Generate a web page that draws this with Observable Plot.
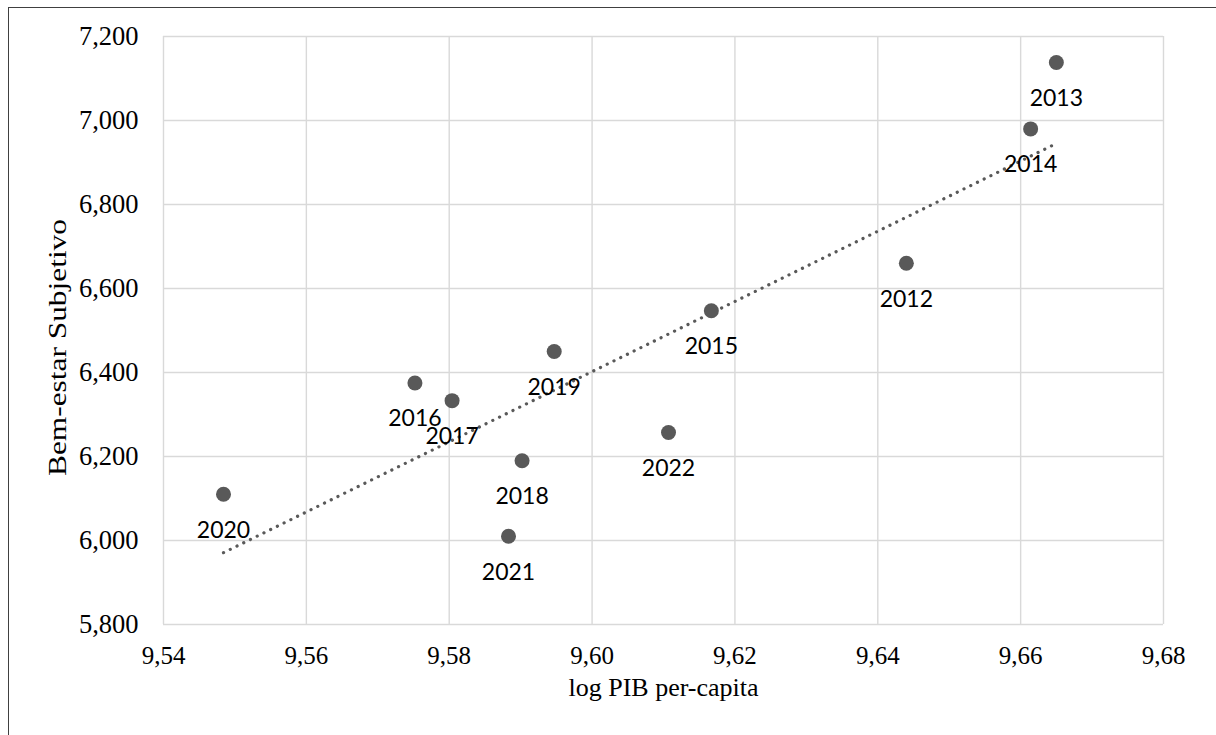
<!DOCTYPE html>
<html><head><meta charset="utf-8">
<script src="https://cdn.jsdelivr.net/npm/d3@7"></script>
<script src="https://cdn.jsdelivr.net/npm/@observablehq/plot@0.6"></script>
<style>
body{margin:0;background:#fff;}
#wrap{position:relative;width:1216px;height:735px;overflow:hidden;background:#fff;}
#frame{position:absolute;left:8px;top:7px;width:1400px;height:900px;border-top:1px solid #404040;border-left:1px solid #404040;pointer-events:none;}
#chart{position:absolute;left:0;top:0;}
</style></head><body><div id="wrap"><div id="chart"></div><div id="frame"></div></div>
<script>
const years = [2012, 2013, 2014, 2015, 2016, 2017, 2018, 2019, 2020, 2021, 2022];
const logPib = [9.6440, 9.6650, 9.6614, 9.6167, 9.5752, 9.5804, 9.5902, 9.5947, 9.5484, 9.5883, 9.6107];
const bemEstar = [6660, 7138, 6980, 6547, 6375, 6333, 6190, 6450, 6110, 6010, 6257];
const xTicks = [9.54, 9.56, 9.58, 9.60, 9.62, 9.64, 9.66, 9.68];
const yTicks = [5800, 6000, 6200, 6400, 6600, 6800, 7000, 7200];
const xTitle = "log PIB per-capita";
const yTitle = "Bem-estar Subjetivo";

const data = years.map((yr, i) => ({year: String(yr), x: logPib[i], y: bemEstar[i]}));
const serif = "'Liberation Serif', 'Times New Roman', serif";

const chart = Plot.plot({
  width: 1216, height: 735,
  marginLeft: 163, marginRight: 53, marginTop: 36, marginBottom: 111,
  style: {fontFamily: serif, fontSize: "25px", color: "#000", background: "transparent", overflow: "visible"},
  x: {domain: [9.54, 9.68]},
  y: {domain: [5800, 7200]},
  marks: [
    Plot.gridX(xTicks, {stroke: "#d9d9d9", strokeOpacity: 1, strokeWidth: 1.4}),
    Plot.gridY(yTicks, {stroke: "#d9d9d9", strokeOpacity: 1, strokeWidth: 1.4}),
    Plot.axisX(xTicks, {tickSize: 0, tickPadding: 22, tickFormat: d => d.toFixed(2).replace(".", ","), label: null, fill: "#000", fontSize: 25}),
    Plot.axisY(yTicks, {tickSize: 0, tickPadding: 25, tickFormat: d3.format(","), label: null, fill: "#000", fontSize: 26.5}),
    Plot.linearRegressionY(data, {x: "x", y: "y", ci: 0, stroke: "#595959", strokeWidth: 3.2, strokeDasharray: "0.1 7.4", strokeLinecap: "round"}),
    Plot.dot(data, {x: "x", y: "y", r: 7.5, fill: "#595959"}),
    Plot.text(data, {x: "x", y: "y", text: "year", dy: 36, fontFamily: "Lato", fontSize: 23, fill: "#000"}),
    Plot.text([xTitle], {frameAnchor: "bottom", dy: 71, fontSize: 26, fill: "#000"}),
    Plot.text([yTitle], {frameAnchor: "left", textAnchor: "middle", dx: -106, dy: 17, rotate: -90, fontSize: 25, fill: "#000"})
  ]
});
d3.select(chart).selectAll("text").filter(function() { return this.textContent === yTitle; })
  .attr("textLength", 257).attr("lengthAdjust", "spacingAndGlyphs");
document.getElementById("chart").appendChild(chart);
</script>
</body></html>
